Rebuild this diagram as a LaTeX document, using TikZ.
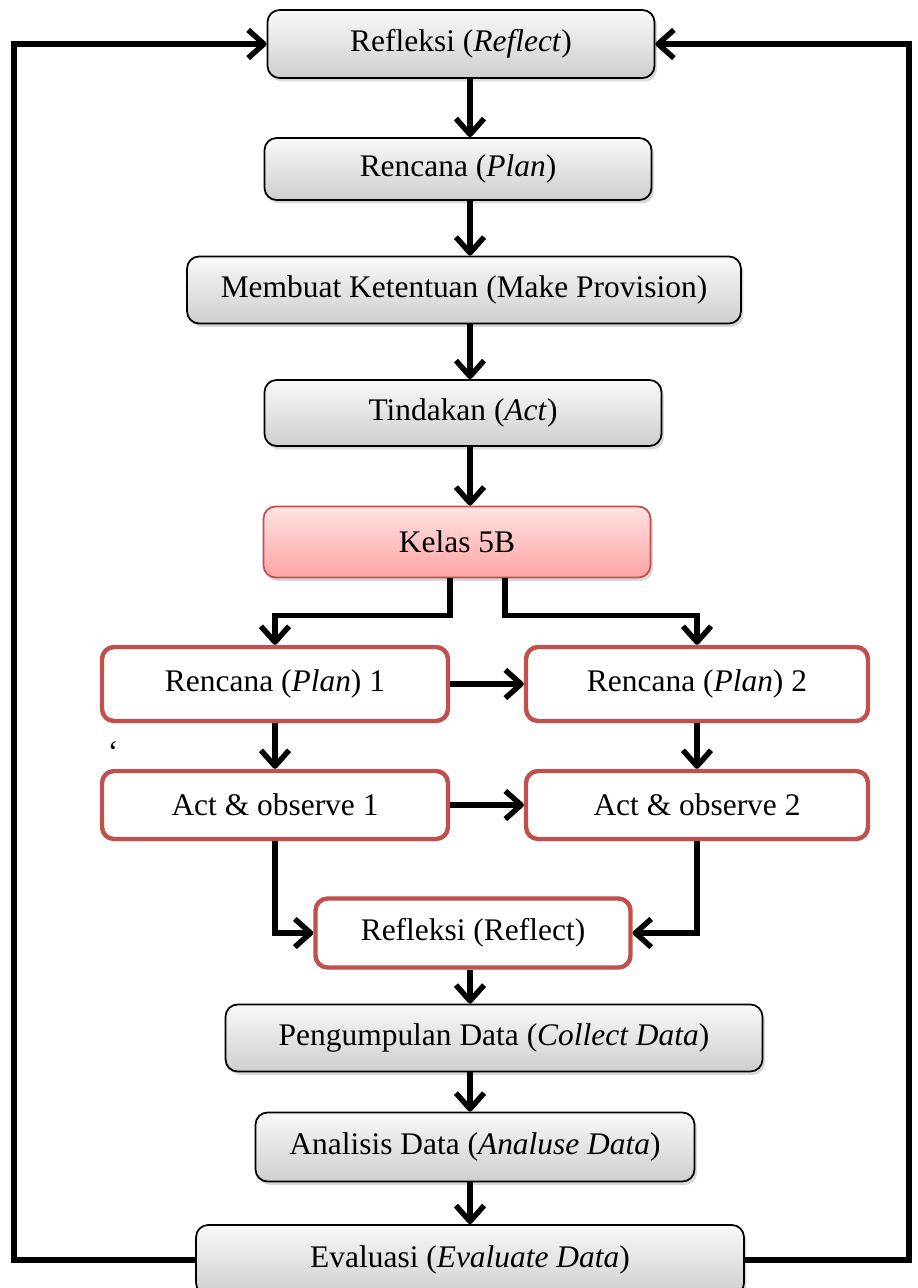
\documentclass[tikz,border=0pt]{standalone}
\usepackage{fontspec}
\setmainfont{Liberation Serif}
\usepackage{tikz}
\usetikzlibrary{arrows.meta,shadows}
\definecolor{boxred}{RGB}{192,80,77}
\definecolor{pinktop}{RGB}{255,226,226}
\definecolor{pinkbot}{RGB}{255,163,163}

\begin{document}
\begin{tikzpicture}[x=0.02cm,y=-0.02cm,
  font=\fontsize{17.9}{21}\selectfont,
  box/.style={rounded corners=0.24cm,inner sep=0pt,align=center},
  graybox/.style={box,draw=black,line width=1pt,top color=gray!5,bottom color=gray!38,
    drop shadow={shadow xshift=0.05cm,shadow yshift=-0.07cm,opacity=0.3}},
  pinkbox/.style={box,draw=boxred,line width=1pt,top color=pinktop,bottom color=pinkbot,
    drop shadow={shadow xshift=0.05cm,shadow yshift=-0.07cm,opacity=0.3}},
  redbox/.style={box,draw=boxred,line width=2.5pt,fill=white},
  arr/.style={line width=3.1pt,-{Straight Barb[length=9pt,width=16pt,line join=round]}}]
\useasboundingbox (0,0) rectangle (917,1288);
\coordinate (spine) at (470,0);
\coordinate (lft) at (14,0);
\coordinate (rgt) at (909,0);
%boxes of the cycle
\node[graybox,minimum width=7.74cm,minimum height=1.36cm] (refl1) at (461,44) {Refleksi (\textit{Reflect})};
\node[graybox,minimum width=7.74cm,minimum height=1.24cm] (plan) at (458,169) {Rencana (\textit{Plan})};
\node[graybox,minimum width=11.08cm,minimum height=1.34cm] (prov) at (464,290) {Membuat Ketentuan (Make Provision)};
\node[graybox,minimum width=7.94cm,minimum height=1.32cm] (act) at (463,413) {Tindakan (\textit{Act})};
\node[pinkbox,minimum width=7.74cm,minimum height=1.42cm] (kelas) at (457,542) {Kelas 5B};
\node[redbox,minimum width=6.92cm,minimum height=1.48cm] (plan1) at (275,684) {Rencana (\textit{Plan}) 1};
\node[redbox,minimum width=6.84cm,minimum height=1.48cm] (plan2) at (697,684) {Rencana (\textit{Plan}) 2};
\node[redbox,minimum width=6.92cm,minimum height=1.36cm] (obs1) at (275,805) {Act \& observe 1};
\node[redbox,minimum width=6.84cm,minimum height=1.36cm] (obs2) at (697,805) {Act \& observe 2};
\node[redbox,minimum width=6.3cm,minimum height=1.38cm] (refl2) at (473,933) {Refleksi (Reflect)};
\node[graybox,minimum width=10.74cm,minimum height=1.34cm] (collect) at (494,1038) {Pengumpulan Data (\textit{Collect Data})};
\node[graybox,minimum width=8.78cm,minimum height=1.38cm] (analyse) at (475,1147) {Analisis Data (\textit{Analuse Data})};
\node[graybox,minimum width=10.96cm,minimum height=1.4cm] (eval) at (470,1260) {Evaluasi (\textit{Evaluate Data})};
\node (tick) at (113,752) {`};
%arrows
\draw[arr] (refl1.south -| spine) -- (plan.north -| spine);
\draw[arr] (plan.south -| spine) -- (prov.north -| spine);
\draw[arr] (prov.south -| spine) -- (act.north -| spine);
\draw[arr] (act.south -| spine) -- (kelas.north -| spine);
\draw[arr] ([xshift=-0.14cm]kelas.south) -- ++(0,37) -| (plan1.north);
\draw[arr] ([xshift=0.96cm]kelas.south) -- ++(0,37) -| (plan2.north);
\draw[arr] (plan1) -- (plan2);
\draw[arr] (obs1) -- (obs2);
\draw[arr] (plan1) -- (obs1);
\draw[arr] (plan2) -- (obs2);
\draw[arr] (obs1.south) |- (refl2.west);
\draw[arr] (obs2.south) |- (refl2.east);
\draw[arr] (refl2.south -| spine) -- (collect.north -| spine);
\draw[arr] (collect.south -| spine) -- (analyse.north -| spine);
\draw[arr] (analyse.south -| spine) -- (eval.north -| spine);
%feedback loop
\draw[arr] (eval.west) -- (eval.west -| lft) |- (refl1.west);
\draw[arr] (eval.east) -- (eval.east -| rgt) |- (refl1.east);
\end{tikzpicture}
\end{document}
